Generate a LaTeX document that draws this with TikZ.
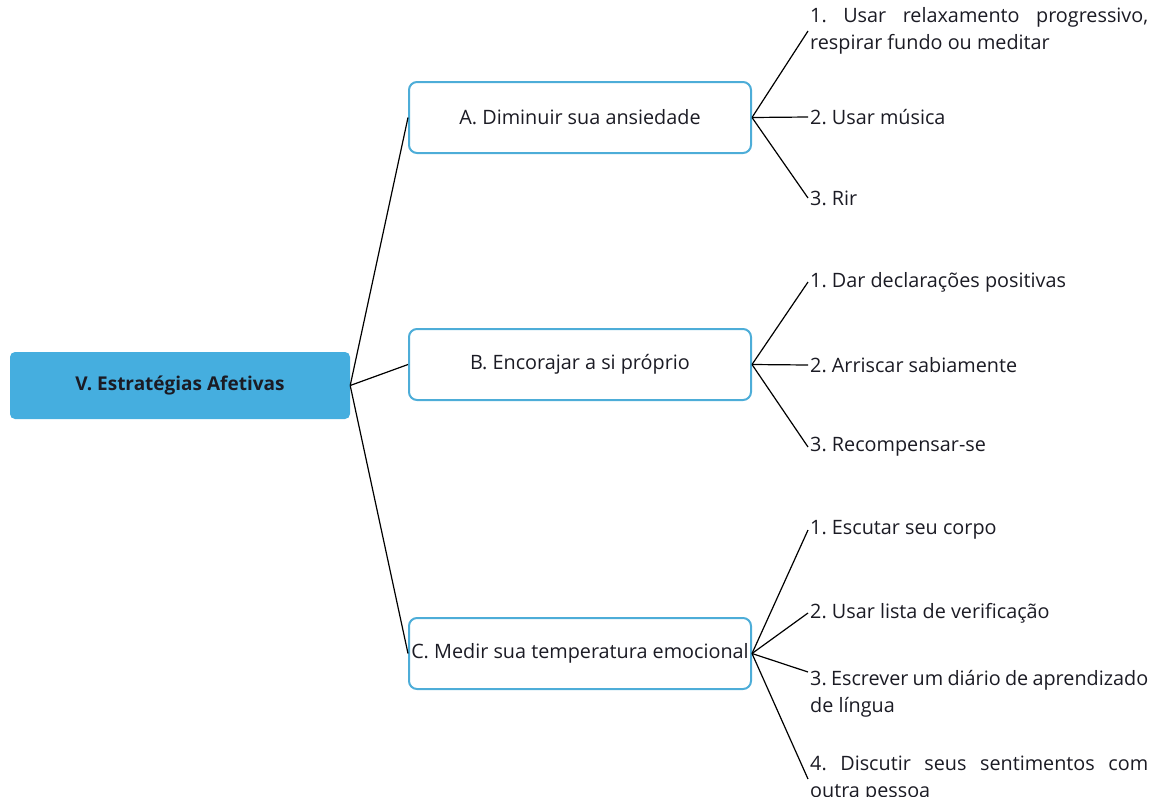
\documentclass[tikz,border=0pt]{standalone}
\usepackage{fontspec}
\setmainfont{Open Sans}
\usetikzlibrary{positioning}
\definecolor{rootblue}{HTML}{45AEDF}
\definecolor{boxblue}{HTML}{4DADD8}
\definecolor{inkdark}{HTML}{1B1B24}
\frenchspacing
\hyphenpenalty=10000
\exhyphenpenalty=10000

\begin{document}
\begin{tikzpicture}[x=1pt,y=-1pt,
    every node/.style={font=\fontsize{19.8}{27}\selectfont,text=inkdark},
    root/.style={rectangle,rounded corners=5pt,fill=rootblue,minimum width=340pt,minimum height=67pt,font=\fontsize{19}{27}\selectfont\bfseries},
    branch/.style={rectangle,rounded corners=8pt,draw=boxblue,line width=2pt,minimum width=342pt,minimum height=71pt,inner sep=2pt},
    leaf/.style={anchor=west,align=justify,text width=338pt,inner sep=2pt},
    link/.style={line width=1.2pt}]
    \useasboundingbox (0,0) rectangle (1154,796);
    \node[root] (v) at (180,385.5) {V. Estratégias Afetivas};
    \node[branch] (a) at (580,117.5) {A. Diminuir sua ansiedade};
    \node[branch] (b) at (580,364.5) {B. Encorajar a si próprio};
    \node[branch] (c) at (580,653.5) {C. Medir sua temperatura emocional};
    % folhas
    \node[leaf] (a1) at (808,31) {1. Usar relaxamento progressivo, respirar fundo ou meditar};
    \node[leaf] (a2) at (808,117) {2. Usar música};
    \node[leaf] (a3) at (808,198) {3. Rir};
    \node[leaf] (b1) at (808,282) {1. Dar declarações positivas};
    \node[leaf] (b2) at (808,365) {2. Arriscar sabiamente};
    \node[leaf] (b3) at (808,447) {3. Recompensar-se};
    \node[leaf] (c1) at (808,530) {1. Escutar seu corpo};
    \node[leaf] (c2) at (808,613) {2. Usar lista de verificação};
    \node[leaf] (c3) at (808,694) {3. Escrever um diário de aprendizado de língua};
    \node[leaf] (c4) at (808,779) {4. Discutir seus sentimentos com outra pessoa};
    \foreach \k in {a,b,c}
      \draw[link] (v.east) -- (\k.west);
    \foreach \p/\k in {a/a1,a/a2,a/a3,b/b1,b/b2,b/b3,c/c1,c/c2,c/c4}
      \draw[link] (\p.east) -- (\k.west);
    \draw[link] (c.east) -- ([yshift=22pt]c3.west);
\end{tikzpicture}
\end{document}
